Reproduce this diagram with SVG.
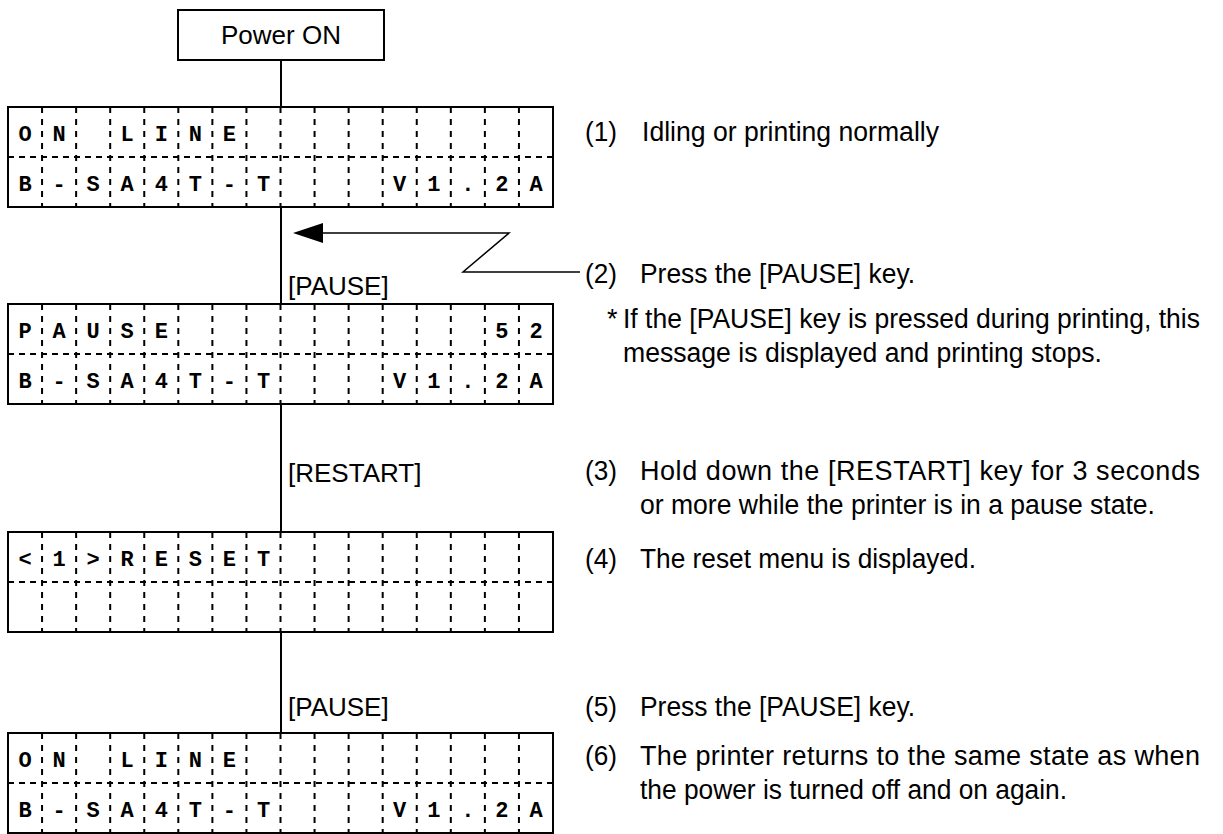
<svg xmlns="http://www.w3.org/2000/svg" xmlns:xlink="http://www.w3.org/1999/xlink" width="1223" height="834" viewBox="0 0 1223 834">
<style>
  .frame{fill:none;stroke:#000;stroke-width:2}
  .div{stroke:#000;stroke-width:2;stroke-dasharray:6 6}
  .mid{stroke:#000;stroke-width:2;stroke-dasharray:6 5}
  .lcd{font-family:"Liberation Mono","Courier New",monospace;font-weight:bold;font-size:22px;text-anchor:middle;fill:#000}
  .lbl{font-family:"Liberation Sans",Arial,sans-serif;font-size:26px;fill:#000}
  .desc{font-family:"Liberation Sans",Arial,sans-serif;font-size:27px;fill:#000}
  .conn{stroke:#000;stroke-width:2;fill:none}
  .thin{stroke:#000;stroke-width:1.5;fill:none}
</style>
<defs>
  <g id="lcdframe">
    <rect class="frame" x="0" y="0" width="545" height="100"/>
    <line class="mid" x1="0" y1="50" x2="545" y2="50"/>
    <g class="div">
      <line x1="34.06" y1="0" x2="34.06" y2="100"/>
      <line x1="68.13" y1="0" x2="68.13" y2="100"/>
      <line x1="102.19" y1="0" x2="102.19" y2="100"/>
      <line x1="136.25" y1="0" x2="136.25" y2="100"/>
      <line x1="170.31" y1="0" x2="170.31" y2="100"/>
      <line x1="204.38" y1="0" x2="204.38" y2="100"/>
      <line x1="238.44" y1="0" x2="238.44" y2="100"/>
      <line x1="272.5" y1="0" x2="272.5" y2="100"/>
      <line x1="306.56" y1="0" x2="306.56" y2="100"/>
      <line x1="340.63" y1="0" x2="340.63" y2="100"/>
      <line x1="374.69" y1="0" x2="374.69" y2="100"/>
      <line x1="408.75" y1="0" x2="408.75" y2="100"/>
      <line x1="442.81" y1="0" x2="442.81" y2="100"/>
      <line x1="476.88" y1="0" x2="476.88" y2="100"/>
      <line x1="510.94" y1="0" x2="510.94" y2="100"/>
    </g>
  </g>
</defs>

<g id="connectors">
  <line class="conn" x1="281" y1="60" x2="281" y2="107"/>
  <line class="conn" x1="281" y1="207" x2="281" y2="304"/>
  <line class="conn" x1="281" y1="404" x2="281" y2="532"/>
  <line class="conn" x1="281" y1="632" x2="281" y2="733"/>
  <polyline class="thin" points="580,272 463,272 509,233 321,233"/>
  <path d="M293,233 L323,223 L323,243 Z" fill="#000"/>
</g>

<g id="power-on">
  <rect class="frame" x="178" y="10" width="206" height="50"/>
  <text class="lbl" x="281" y="44" text-anchor="middle">Power ON</text>
</g>

<g id="lcd1">
  <use xlink:href="#lcdframe" x="8" y="107"/>
  <text class="lcd" y="141" x="25 59.1 127.2 161.3 195.3 229.4">ONLINE</text>
  <text class="lcd" y="191" x="25 59.1 93.2 127.2 161.3 195.3 229.4 263.5 399.7 433.8 467.8 501.9 536">B-SA4T-TV1.2A</text>
</g>

<g id="label-pause1"><text class="lbl" x="288" y="295">[PAUSE]</text></g>

<g id="lcd2">
  <use xlink:href="#lcdframe" x="8" y="304"/>
  <text class="lcd" y="338" x="25 59.1 93.2 127.2 161.3 501.9 536">PAUSE52</text>
  <text class="lcd" y="388" x="25 59.1 93.2 127.2 161.3 195.3 229.4 263.5 399.7 433.8 467.8 501.9 536">B-SA4T-TV1.2A</text>
</g>

<g id="label-restart"><text class="lbl" x="288" y="482">[RESTART]</text></g>

<g id="lcd3">
  <use xlink:href="#lcdframe" x="8" y="532"/>
  <text class="lcd" y="566" x="25 59.1 93.2 127.2 161.3 195.3 229.4 263.5">&lt;1&gt;RESET</text>
</g>

<g id="label-pause2"><text class="lbl" x="288" y="716">[PAUSE]</text></g>

<g id="lcd4">
  <use xlink:href="#lcdframe" x="8" y="733"/>
  <text class="lcd" y="767" x="25 59.1 127.2 161.3 195.3 229.4">ONLINE</text>
  <text class="lcd" y="817" x="25 59.1 93.2 127.2 161.3 195.3 229.4 263.5 399.7 433.8 467.8 501.9 536">B-SA4T-TV1.2A</text>
</g>

<g id="notes">
  <text class="desc" x="585" y="141" textLength="32" lengthAdjust="spacingAndGlyphs">(1)</text>
  <text class="desc" x="642" y="141" textLength="297" lengthAdjust="spacingAndGlyphs">Idling or printing normally</text>
  <text class="desc" x="585" y="283" textLength="32" lengthAdjust="spacingAndGlyphs">(2)</text>
  <text class="desc" x="640" y="283" textLength="275" lengthAdjust="spacingAndGlyphs">Press the [PAUSE] key.</text>
  <text class="desc" x="607" y="328">*</text>
  <text class="desc" x="623" y="328" textLength="577" lengthAdjust="spacingAndGlyphs">If the [PAUSE] key is pressed during printing, this</text>
  <text class="desc" x="623" y="362" textLength="479" lengthAdjust="spacingAndGlyphs">message is displayed and printing stops.</text>
  <text class="desc" x="585" y="480" textLength="32" lengthAdjust="spacingAndGlyphs">(3)</text>
  <text class="desc" x="640" y="480" textLength="560" lengthAdjust="spacing">Hold down the [RESTART] key for 3 seconds</text>
  <text class="desc" x="640" y="514" textLength="515" lengthAdjust="spacingAndGlyphs">or more while the printer is in a pause state.</text>
  <text class="desc" x="585" y="568" textLength="32" lengthAdjust="spacingAndGlyphs">(4)</text>
  <text class="desc" x="640" y="568" textLength="336" lengthAdjust="spacingAndGlyphs">The reset menu is displayed.</text>
  <text class="desc" x="585" y="716" textLength="32" lengthAdjust="spacingAndGlyphs">(5)</text>
  <text class="desc" x="640" y="716" textLength="275" lengthAdjust="spacingAndGlyphs">Press the [PAUSE] key.</text>
  <text class="desc" x="585" y="765" textLength="32" lengthAdjust="spacingAndGlyphs">(6)</text>
  <text class="desc" x="640" y="765" textLength="560" lengthAdjust="spacing">The printer returns to the same state as when</text>
  <text class="desc" x="640" y="799" textLength="427" lengthAdjust="spacingAndGlyphs">the power is turned off and on again.</text>
</g>
</svg>
